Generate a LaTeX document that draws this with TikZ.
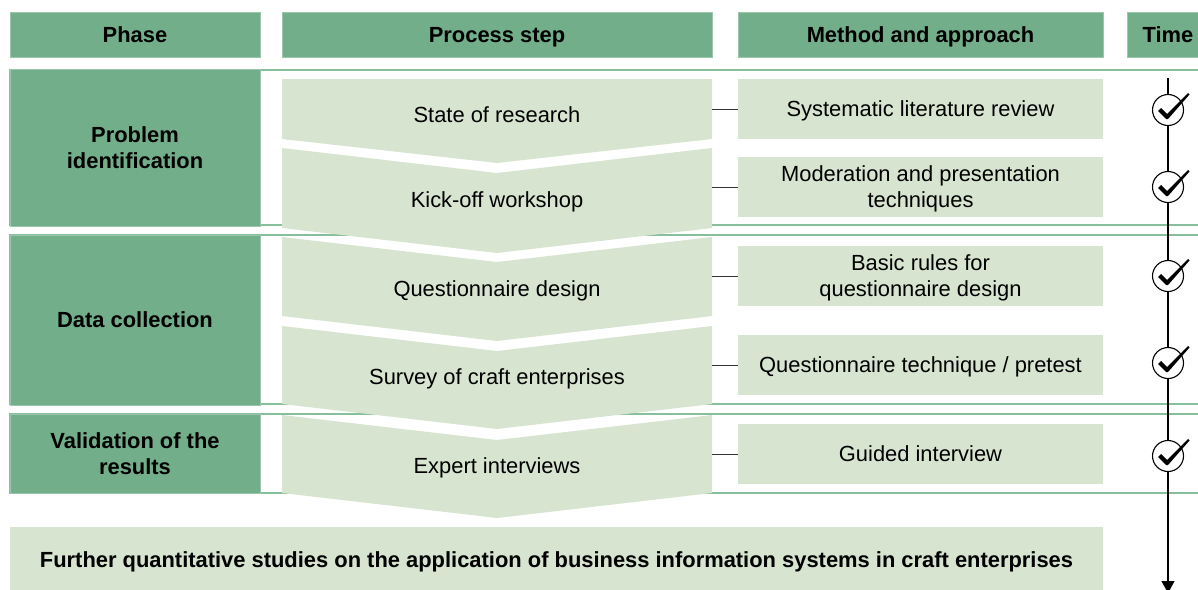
\documentclass[tikz,border=0pt]{standalone}
\usepackage{fontspec}
\setmainfont{Liberation Sans}
\usetikzlibrary{arrows.meta}
\definecolor{hdrgreen}{HTML}{72AE89}
\definecolor{palegreen}{HTML}{D7E4D0}
\definecolor{rulegreen}{HTML}{86BF9B}
\definecolor{linkgray}{HTML}{333333}

\begin{document}
\begin{tikzpicture}[x=1pt,y=-1pt,
  every node/.style={font=\fontsize{21.9}{26}\selectfont, inner sep=0pt, align=center, text depth=0pt},
  header/.style={fill=hdrgreen, draw=hdrgreen!70!white, line width=0.6pt,
                 minimum height=45, font=\fontsize{21.9}{26}\selectfont\bfseries},
  phasebox/.style={fill=hdrgreen, draw=hdrgreen!70!white, line width=0.6pt,
                   minimum width=250, font=\fontsize{21.9}{26}\selectfont\bfseries},
  rowframe/.style={draw=rulegreen, line width=1.3pt},
  chevron/.style={fill=palegreen, draw=none},
  steptext/.style={minimum width=430},
  methodbox/.style={fill=palegreen, draw=none, minimum width=365, minimum height=60},
  link/.style={draw=linkgray, line width=0.9pt},
  timeline/.style={draw=black, line width=1.1pt, -{Triangle[width=13pt,length=12pt]}},
  tick/.style={circle, draw=black, fill=white, line width=1.1pt, minimum size=31},
  outcome/.style={fill=palegreen, draw=none, minimum width=1093, minimum height=66,
                  font=\fontsize{21.9}{26}\selectfont\bfseries}
]
\useasboundingbox (0,0) rectangle (1198,589);
\clip (0,0) rectangle (1198,589);

% column headers
\node[header, minimum width=250] (hphase) at (135,34.5) {Phase};
\node[header, minimum width=430] (hstep) at (497,34.5) {Process step};
\node[header, minimum width=365] (hmethod) at (920.5,34.5) {Method and approach};
\node[header, minimum width=82] (htime) at (1168,34.5) {Time};

% phase rows
\draw[rowframe] (10,70) rectangle (1215,225);
\draw[rowframe] (10,235) rectangle (1215,404);
\draw[rowframe] (10,414) rectangle (1215,493);
\node[phasebox, minimum height=157] (p1) at (135,147.5) {Problem\\identification};
\node[phasebox, minimum height=170] (p2) at (135,320) {Data collection};
\node[phasebox, minimum height=79] (p3) at (135,453.5) {Validation of the\\results};

% process chevrons
\fill[chevron] (282,79) -- (712,79) -- (712,139) -- (497,163) -- (282,139) -- cycle;
\foreach \t/\b in {148/228, 237/316, 326/404, 415/493}{
  \fill[chevron] (282,\t) -- (497,\t+25) -- (712,\t) -- (712,\b) -- (497,\b+25) -- (282,\b) -- cycle;
}
\node[steptext] (c1) at (497,115) {State of research};
\node[steptext] (c2) at (497,200) {Kick-off workshop};
\node[steptext] (c3) at (497,289) {Questionnaire design};
\node[steptext] (c4) at (497,377) {Survey of craft enterprises};
\node[steptext] (c5) at (497,466) {Expert interviews};

% methods
\node[methodbox] (m1) at (920.5,109) {Systematic literature review};
\node[methodbox] (m2) at (920.5,187) {Moderation and presentation\\techniques};
\node[methodbox] (m3) at (920.5,276) {Basic rules for\\questionnaire design};
\node[methodbox] (m4) at (920.5,365) {Questionnaire technique / pretest};
\node[methodbox] (m5) at (920.5,454) {Guided interview};

\foreach \i in {1,...,5}{
  \draw[link] (m\i.west) -- (m\i.west -| c\i.east);
}

% time axis with milestones
\coordinate (tstart) at (1168,78);
\coordinate (tend) at (1168,593);
\draw[timeline] (tstart) -- (tend);
\foreach \i/\y in {1/110, 2/187, 3/276, 4/363, 5/456}{
  \node[tick] (t\i) at (1168,\y) {};
  \fill[black, shift={(t\i.center)}]
    (-10,1) -- (-7,-2) -- (-1,4) -- (20,-17) -- (21.5,-15.5) -- (0,9) -- (-2,9) -- cycle;
}

% outcome bar
\node[outcome] (fb) at (556.5,560) {Further quantitative studies on the application of business information systems in craft enterprises};
\end{tikzpicture}
\end{document}
